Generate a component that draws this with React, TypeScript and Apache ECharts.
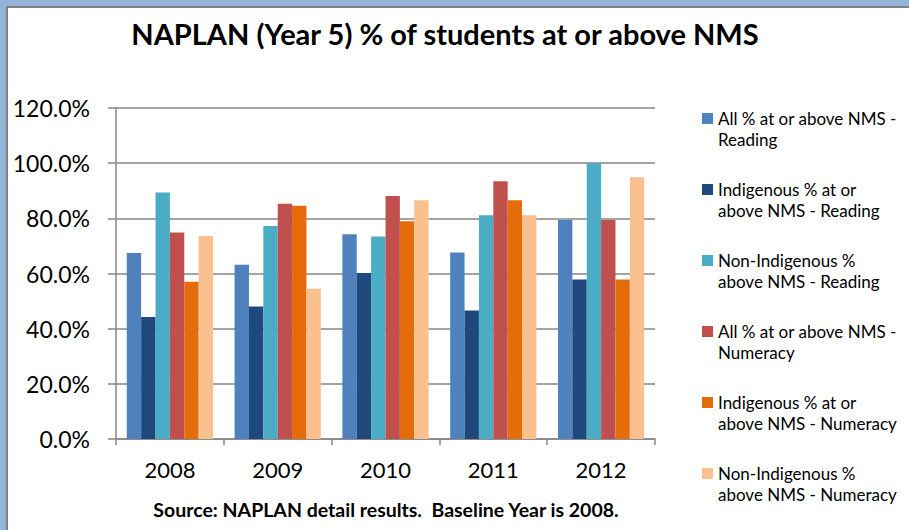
import React, { useEffect, useRef } from "react";
import * as echarts from "echarts";

const years = ["2008", "2009", "2010", "2011", "2012"];
const allReading = [67.4, 63.2, 74.2, 67.6, 79.4];
const indigReading = [44.2, 48.0, 60.2, 46.6, 57.8];
const nonIndigReading = [89.4, 77.2, 73.4, 81.1, 100.0];
const allNumeracy = [74.9, 85.3, 88.1, 93.4, 79.4];
const indigNumeracy = [57.0, 84.6, 78.9, 86.6, 57.8];
const nonIndigNumeracy = [73.6, 54.5, 86.6, 81.1, 94.9];

const seriesNames = [
  "All % at or above NMS -\nReading",
  "Indigenous % at or\nabove NMS - Reading",
  "Non-Indigenous %\nabove NMS - Reading",
  "All % at or above NMS -\nNumeracy",
  "Indigenous % at or\nabove NMS - Numeracy",
  "Non-Indigenous %\nabove NMS - Numeracy",
];
const seriesData = [allReading, indigReading, nonIndigReading, allNumeracy, indigNumeracy, nonIndigNumeracy];
const colors = ["#4F81BD", "#1F497D", "#4BACC6", "#C0504D", "#E46C0A", "#FAC090"];

const FONT = "Lato";

export default function App() {
  const ref = useRef<HTMLDivElement>(null);
  useEffect(() => {
    const chart = echarts.init(ref.current!, null, { renderer: "svg" });
    chart.setOption({
      animation: false,
      backgroundColor: "#95B3D7",
      color: colors,
      graphic: [
        {
          type: "rect",
          z: -10,
          shape: { x: 7, y: 7, width: 910, height: 530 },
          style: { fill: "#ffffff", stroke: "#808080", lineWidth: 2 },
          silent: true,
        },
        {
          type: "text",
          style: {
            text: "NAPLAN (Year 5) % of students at or above NMS",
            font: `bold 29px ${FONT}`,
            fill: "#000",
            x: 445,
            y: 33,
            align: "center",
            verticalAlign: "middle",
          },
        },
        {
          type: "text",
          style: {
            text: "Source: NAPLAN detail results.  Baseline Year is 2008.",
            font: `bold 19.5px ${FONT}`,
            fill: "#000",
            x: 386,
            y: 509,
            align: "center",
            verticalAlign: "middle",
          },
        },
      ],
      legend: {
        orient: "vertical",
        left: 702,
        top: 87,
        padding: 0,
        itemWidth: 11,
        itemHeight: 11,
        itemGap: 8,
        icon: "rect",
        data: seriesNames,
        formatter: (name: string) => "\n" + name,
        textStyle: {
          fontFamily: FONT,
          fontSize: 17,
          color: "#000",
          lineHeight: 21,
        },
      },
      grid: { left: 116, right: 254, top: 108, bottom: 91, containLabel: false },
      xAxis: {
        type: "category",
        data: years,
        axisLine: { lineStyle: { color: "#868686", width: 1.5 } },
        axisTick: { show: true, length: 6, lineStyle: { color: "#868686", width: 1.5 } },
        axisLabel: { fontFamily: FONT, fontSize: 22, color: "#000", margin: 19 },
      },
      yAxis: {
        type: "value",
        min: 0,
        max: 120,
        interval: 20,
        axisLine: { show: true, lineStyle: { color: "#868686", width: 1.5 } },
        axisTick: { show: true, length: 8, lineStyle: { color: "#868686", width: 1.5 } },
        splitLine: { lineStyle: { color: "#868686", width: 1.5 } },
        axisLabel: {
          fontFamily: FONT,
          fontSize: 23,
          color: "#000",
          margin: 26,
          formatter: (v: number) => v.toFixed(1) + "%",
        },
      },
      series: seriesNames.map((name, i) => ({
        name,
        type: "bar",
        data: seriesData[i],
        barGap: "0%",
        barCategoryGap: "20%",
        itemStyle: { color: colors[i] },
      })),
    });
    return () => chart.dispose();
  }, []);
  return (
    <div
      ref={ref}
      style={{ position: "fixed", left: 0, top: 0, width: 909, height: 530 }}
    />
  );
}
